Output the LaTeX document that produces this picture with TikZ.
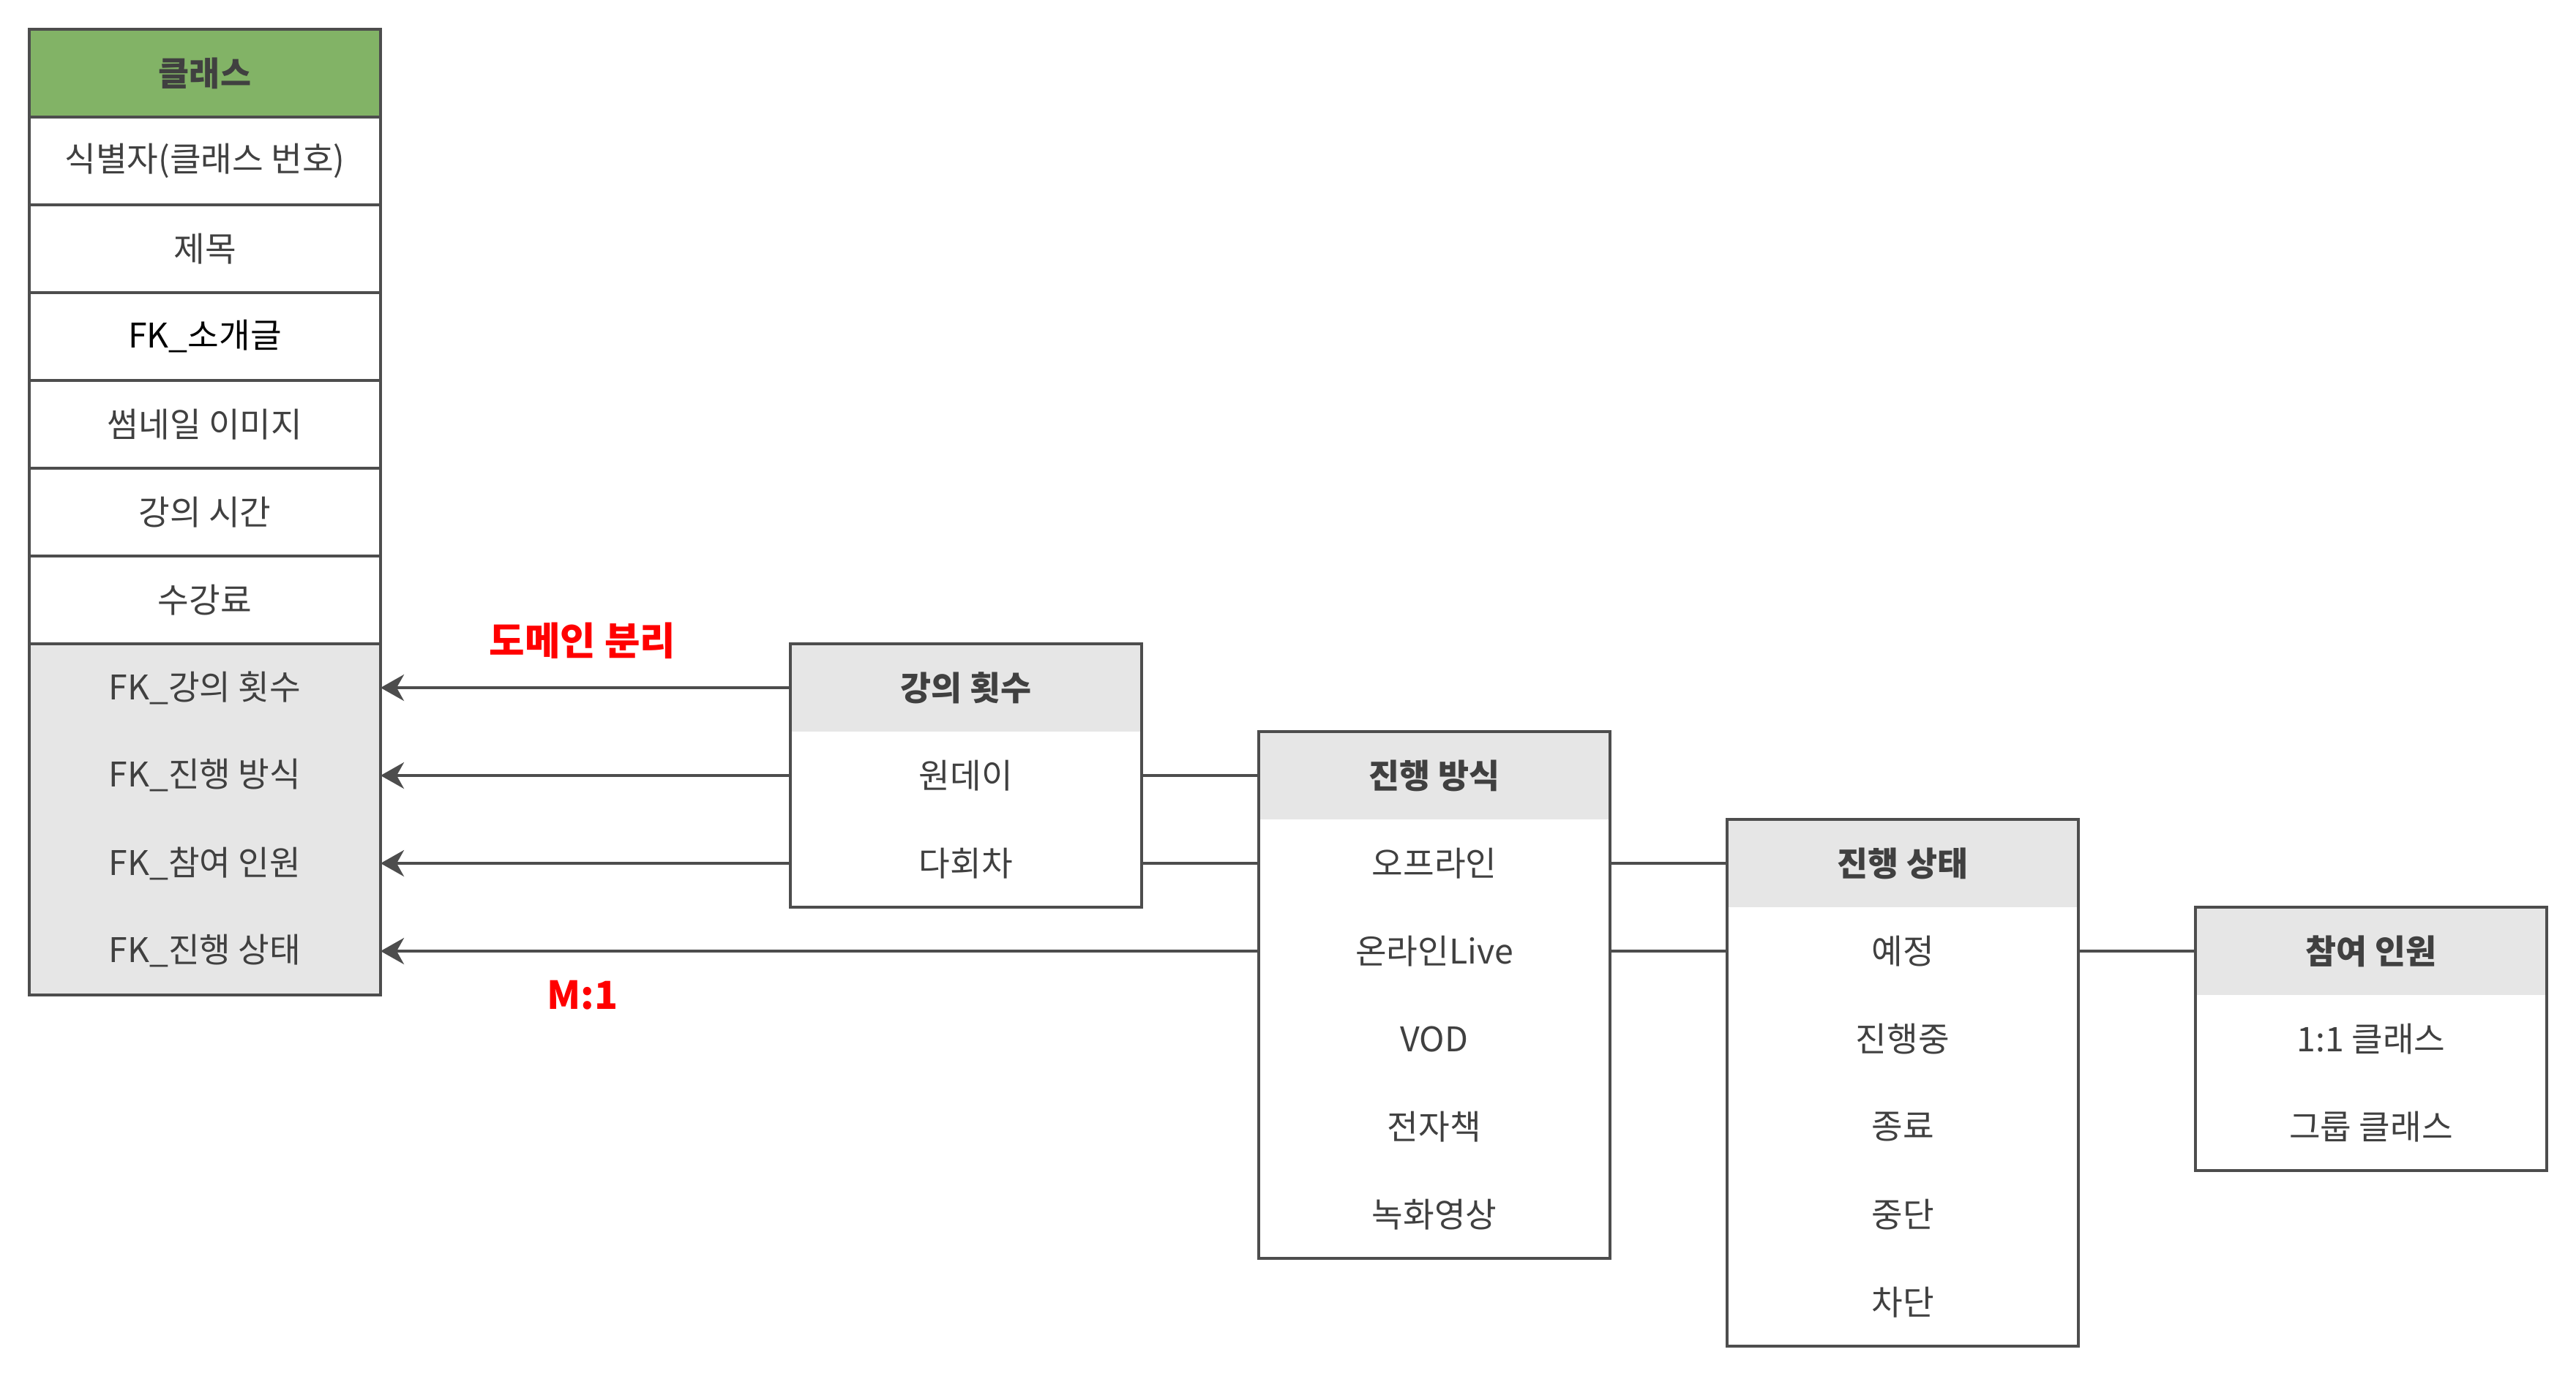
\documentclass[tikz,border=0pt]{standalone}
\usepackage{fontspec}
\setmainfont{Noto Sans CJK KR}
\usetikzlibrary{arrows.meta}
\definecolor{linegray}{HTML}{4D4D4D}
\definecolor{txtgray}{HTML}{404040}
\definecolor{headgreen}{HTML}{82B366}
\definecolor{headgray}{HTML}{E6E6E6}
\definecolor{labelred}{HTML}{FF0000}
\tikzset{
	cell/.style={minimum width=4.8cm, minimum height=1.2cm, inner sep=0pt, outer sep=0pt, text=txtgray, font=\fontsize{13.2}{16}\selectfont},
	rowcell/.style={cell, draw=linegray, line width=1pt, fill=white},
	headcell/.style={cell, fill=headgray, font=\fontsize{13}{16}\selectfont\bfseries},
	itemcell/.style={cell},
	frame/.style={cell, draw=linegray, line width=1pt},
	link/.style={draw=linegray, line width=1pt},
	fkarrow/.style={link, -{Stealth[length=0.32cm, width=0.36cm, inset=0.1cm]}},
	redlabel/.style={text=labelred, font=\fontsize{15}{18}\selectfont\bfseries, inner sep=0pt}
}
\begin{document}
\begin{tikzpicture}[x=0.04cm, y=-0.04cm]
				\useasboundingbox (0,0) rectangle (880,472);
				
				\node[rowcell, fill=headgreen, font=\fontsize{13}{16}\selectfont\bfseries] (classHead) at (70,25) {클래스};
				\node[rowcell] (classId) at (70,55) {식별자(클래스 번호)};
				\node[rowcell] (classTitle) at (70,85) {제목};
				\node[rowcell, text=black] (classIntro) at (70,115) {FK\_소개글};
				\node[rowcell] (classThumb) at (70,145) {썸네일 이미지};
				\node[rowcell] (classTime) at (70,175) {강의 시간};
				\node[rowcell] (classFee) at (70,205) {수강료};
				\node[frame, fill=headgray, minimum height=4.8cm] (classFk) at (70,280) {};
				\node[itemcell] (fkCount) at (70,235) {FK\_강의 횟수};
				\node[itemcell] (fkMode) at (70,265) {FK\_진행 방식};
				\node[itemcell] (fkPeople) at (70,295) {FK\_참여 인원};
				\node[itemcell] (fkState) at (70,325) {FK\_진행 상태};
				
				\node[headcell] (countHead) at (330,235) {강의 횟수};
				\node[itemcell] (oneDay) at (330,265) {원데이};
				\node[itemcell] (multiDay) at (330,295) {다회차};
				\node[frame, minimum height=3.6cm] (countBox) at (330,265) {};
				
				\node[headcell] (modeHead) at (490,265) {진행 방식};
				\node[itemcell] (offline) at (490,295) {오프라인};
				\node[itemcell] (onlineLive) at (490,325) {온라인Live};
				\node[itemcell] (vod) at (490,355) {VOD};
				\node[itemcell] (ebook) at (490,385) {전자책};
				\node[itemcell] (recorded) at (490,415) {녹화영상};
				\node[frame, minimum height=7.2cm] (modeBox) at (490,340) {};
				
				\node[headcell] (stateHead) at (650,295) {진행 상태};
				\node[itemcell] (planned) at (650,325) {예정};
				\node[itemcell] (running) at (650,355) {진행중};
				\node[itemcell] (finished) at (650,385) {종료};
				\node[itemcell] (stopped) at (650,415) {중단};
				\node[itemcell] (blocked) at (650,445) {차단};
				\node[frame, minimum height=7.2cm] (stateBox) at (650,370) {};
				
				\node[headcell] (peopleHead) at (810,325) {참여 인원};
				\node[itemcell] (oneOnOne) at (810,355) {1:1 클래스};
				\node[itemcell] (group) at (810,385) {그룹 클래스};
				\node[frame, minimum height=3.6cm] (peopleBox) at (810,355) {};
				
				\draw[fkarrow] (countHead.west) -- (fkCount.east);
				\draw[fkarrow] (oneDay.west) -- (fkMode.east);
				\draw[fkarrow] (multiDay.west) -- (fkPeople.east);
				\draw[fkarrow] (onlineLive.west) -- (fkState.east);
				
				\draw[link] (oneDay.east) -- (modeHead.west);
				\draw[link] (multiDay.east) -- (offline.west);
				\draw[link] (offline.east) -- (stateHead.west);
				\draw[link] (onlineLive.east) -- (planned.west);
				\draw[link] (planned.east) -- (peopleHead.west);
				
				\node[redlabel] (domainSplit) at (199,219) {도메인 분리};
				\node[redlabel] (manyToOne) at (199,340) {M:1};
			\end{tikzpicture}
\end{document}
